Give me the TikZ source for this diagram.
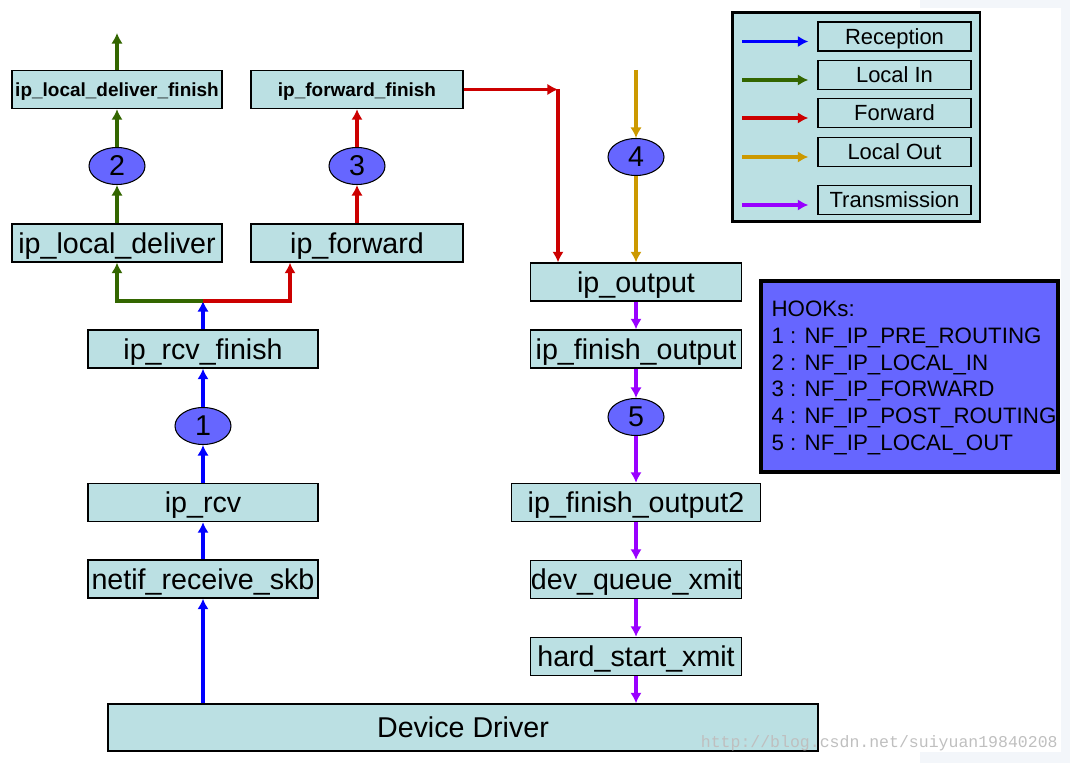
\documentclass[tikz,border=0pt]{standalone}
\usepackage{fontspec}
\setmainfont{Liberation Sans}
\newfontfamily\markfont{Liberation Mono}
\usetikzlibrary{arrows.meta,shapes.geometric}
\definecolor{box_fill}{HTML}{BBE0E3}
\definecolor{hook_fill}{HTML}{6666FF}
\definecolor{rx_blue}{HTML}{0000FF}
\definecolor{in_green}{HTML}{336600}
\definecolor{fw_red}{HTML}{CC0000}
\definecolor{out_orange}{HTML}{CC9900}
\definecolor{tx_purple}{HTML}{9900FF}
\definecolor{page_grey}{HTML}{F3F6FA}

\begin{document}
\begin{tikzpicture}[x=0.02cm, y=-0.02cm, >={Latex[length=6pt,width=6.5pt]}]
            % Styles
            \tikzstyle{func} = [rectangle, draw=black, line width=0.8pt, fill=box_fill, minimum width=4.2cm, minimum height=0.76cm, inner sep=0pt, text height=11.9pt, text depth=0pt, font=\fontsize{16.3}{19}\selectfont]
            \tikzstyle{funcsmall} = [func, text height=7.9pt, font=\fontsize{10.8}{13}\selectfont\bfseries]
            \tikzstyle{hook} = [ellipse, draw=black, line width=0.6pt, fill=hook_fill, minimum width=1.12cm, minimum height=0.74cm, inner sep=0pt, font=\fontsize{16.3}{19}\selectfont]
            \tikzstyle{legendkey} = [rectangle, draw=black, line width=0.8pt, fill=box_fill, minimum width=3.06cm, minimum height=0.58cm, inner sep=0pt, text height=9pt, text depth=0pt, font=\fontsize{12.5}{15}\selectfont]
            \tikzstyle{flow} = [->, line width=2pt]

            \useasboundingbox (0,0) rectangle (1070,763);
            \fill[page_grey] (920,0) rectangle (1070,8);
            \fill[page_grey] (1061,0) rectangle (1070,763);
            \fill[page_grey] (920,752) rectangle (1070,763);

            % Nodes: Reception / Local In / Forward
            \node[funcsmall] (ldf) at (117,89.5) {ip\_local\_deliver\_finish};
            \node[funcsmall, minimum width=4.24cm] (ff) at (357,89.5) {ip\_forward\_finish};
            \node[hook] (h2) at (117,166) {2};
            \node[hook] (h3) at (357,166) {3};
            \node[func] (ld) at (117,243) {ip\_local\_deliver};
            \node[func, minimum width=4.24cm] (fwd) at (357,243) {ip\_forward};
            \node[func, minimum width=4.6cm] (rcvf) at (203,349) {ip\_rcv\_finish};
            \node[hook] (h1) at (203,426) {1};
            \node[func, minimum width=4.6cm] (rcv) at (203,502.5) {ip\_rcv};
            \node[func, minimum width=4.6cm] (netif) at (203,579) {netif\_receive\_skb};

            % Nodes: Local Out / Transmission
            \node[hook] (h4) at (636,157) {4};
            \node[func, minimum width=4.22cm] (out) at (636,282) {ip\_output};
            \node[func, minimum width=4.22cm] (fo) at (636,349) {ip\_finish\_output};
            \node[hook] (h5) at (636,417) {5};
            \node[func, minimum width=4.98cm] (fo2) at (636,502.5) {ip\_finish\_output2};
            \node[func, minimum width=4.22cm] (dqx) at (636,579.5) {dev\_queue\_xmit};
            \node[func, minimum width=4.22cm] (hsx) at (636,656.5) {hard\_start\_xmit};
            \node[func, minimum width=14.2cm, minimum height=0.94cm] (dd) at (463,727.5) {Device Driver};

            % Free ends
            \coordinate (ldtop) at (117,33);
            \coordinate (lotop) at (636,70);
            \coordinate (fc) at (558,89.5);
            \coordinate (j) at (203,301);

            % Reception edges
            \draw[flow, rx_blue] (netif |- dd.north) -- (netif);
            \draw[flow, rx_blue] (netif) -- (rcv);
            \draw[flow, rx_blue] (rcv) -- (h1);
            \draw[flow, rx_blue] (h1) -- (rcvf);
            \draw[flow, rx_blue] (rcvf) -- (j);

            % Local In edges
            \draw[flow, in_green] (j) -| (ld.south);
            \draw[flow, in_green] (ld) -- (h2);
            \draw[flow, in_green] (h2) -- (ldf);
            \draw[flow, in_green] (ldf) -- (ldtop);

            % Forward edges
            \draw[flow, fw_red] (j) -| ([xshift=-1.34cm]fwd.south);
            \draw[flow, fw_red] (fwd) -- (h3);
            \draw[flow, fw_red] (h3) -- (ff);
            \draw[flow, fw_red] (ff.east) -- (fc);
            \draw[flow, fw_red] (fc) -- (fc |- out.north);

            % Local Out edges
            \draw[flow, out_orange] (lotop) -- (h4);
            \draw[flow, out_orange] (h4) -- (out);

            % Transmission edges
            \draw[flow, tx_purple] (out) -- (fo);
            \draw[flow, tx_purple] (fo) -- (h5);
            \draw[flow, tx_purple] (h5) -- (fo2);
            \draw[flow, tx_purple] (fo2) -- (dqx);
            \draw[flow, tx_purple] (dqx) -- (hsx);
            \draw[flow, tx_purple] (hsx) -- (hsx |- dd.north);

            % Legend
            \node[draw=black, line width=1.7pt, fill=box_fill, minimum width=4.96cm, minimum height=4.2cm] (legend) at (856,117) {};
            \node[legendkey] (keyrx) at (894.5,36.5) {Reception};
            \node[legendkey] (keyin) at (894.5,75) {Local In};
            \node[legendkey] (keyfw) at (894.5,113) {Forward};
            \node[legendkey] (keyout) at (894.5,152) {Local Out};
            \node[legendkey] (keytx) at (894.5,200) {Transmission};
            \coordinate (arrx) at (742,41.5);
            \coordinate (arin) at (742,80);
            \coordinate (arfw) at (742,118);
            \coordinate (arout) at (742,157);
            \coordinate (artx) at (742,205);
            \draw[flow, rx_blue, shorten >=0.18cm] (arrx) -- (arrx -| keyrx.west);
            \draw[flow, in_green, shorten >=0.18cm] (arin) -- (arin -| keyin.west);
            \draw[flow, fw_red, shorten >=0.18cm] (arfw) -- (arfw -| keyfw.west);
            \draw[flow, out_orange, shorten >=0.18cm] (arout) -- (arout -| keyout.west);
            \draw[flow, tx_purple, shorten >=0.18cm] (artx) -- (artx -| keytx.west);

            % Hook list
            \node[draw=black, line width=2pt, fill=hook_fill, minimum width=5.94cm, minimum height=3.82cm] (hooklist) at (909.5,376.5) {};
            \node[anchor=west, inner sep=0pt, align=left, font=\fontsize{12.7}{15.2}\selectfont] (hooktext) at ([xshift=0.24cm, yshift=-0.03cm]hooklist.west) {HOOKs:\\1 : NF\_IP\_PRE\_ROUTING\\2 : NF\_IP\_LOCAL\_IN\\3 : NF\_IP\_FORWARD\\4 : NF\_IP\_POST\_ROUTING\\5 : NF\_IP\_LOCAL\_OUT};

            \node[anchor=east, inner sep=0pt, text=black!25, font=\markfont\fontsize{9.4}{11}\selectfont] (mark) at (1058,743) {http://blog.csdn.net/suiyuan19840208};
\end{tikzpicture}
\end{document}
